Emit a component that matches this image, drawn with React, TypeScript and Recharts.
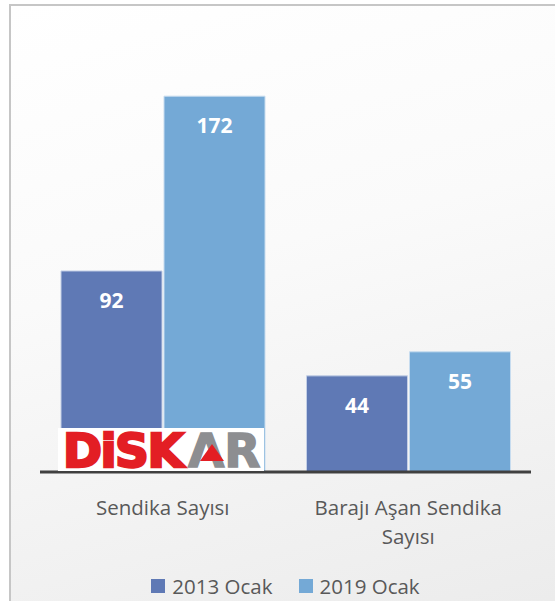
import React from "react";
import { BarChart, Bar, XAxis, YAxis, Legend, LabelList, Text } from "recharts";

const categories = ["Sendika Sayısı", "Barajı Aşan Sendika Sayısı"];
const series2013 = [92, 44];
const series2019 = [172, 55];
const seriesNames = ["2013 Ocak", "2019 Ocak"];
const seriesColors = ["#5f79b5", "#74a9d6"];

const data = categories.map((c, i) => ({ name: c, s2013: series2013[i], s2019: series2019[i] }));

const FONT = "'Open Sans', sans-serif";

const Tick = (props: any) => {
  const { x, y, payload } = props;
  return (
    <Text
      x={x}
      y={y + 20}
      width={185}
      textAnchor="middle"
      verticalAnchor="start"
      lineHeight={29}
      fill="#595959"
      style={{ fontFamily: FONT, fontSize: 20.5 }}
    >
      {payload.value}
    </Text>
  );
};

const ValueLabel = (props: any) => {
  const { x, y, width, value } = props;
  return (
    <text
      x={x + width / 2}
      y={y + 29}
      textAnchor="middle"
      dominantBaseline="central"
      fill="#ffffff"
      style={{ fontFamily: FONT, fontSize: 21, fontWeight: 700 }}
    >
      {value}
    </text>
  );
};

const LegendContent = () => (
  <div style={{ display: "flex", justifyContent: "center", fontFamily: FONT, fontSize: 20.5, color: "#595959", height: 26, alignItems: "center" }}>
    {seriesNames.map((n, i) => (
      <div key={n} style={{ display: "flex", alignItems: "center", marginRight: i === 0 ? 26 : 0 }}>
        <span style={{ display: "inline-block", width: 14, height: 14, background: seriesColors[i], marginRight: 7 }} />
        <span>{n}</span>
      </div>
    ))}
  </div>
);

const Logo = () => (
  <svg width={555} height={601} style={{ position: "absolute", left: 0, top: 0, pointerEvents: "none" }}>
    <rect x={58} y={428} width={206} height={43} fill="#ffffff" />
    <text x={63} y={467} fill="#e31e24" stroke="#e31e24" strokeWidth={2.5} style={{ fontFamily: "'DejaVu Sans', sans-serif", fontSize: 47, fontWeight: 700, letterSpacing: -1.5 }}>
      DiSK
    </text>
    <text x={188} y={467} fill="#8d8e91" stroke="#8d8e91" strokeWidth={1.5} style={{ fontFamily: "'DejaVu Sans', sans-serif", fontSize: 47, fontWeight: 700 }}>
      ΛR
    </text>
    <polygon points="212,444 200,461 224,461" fill="#e31e24" />
  </svg>
);

export default function App() {
  return (
    <div style={{ position: "absolute", left: 0, top: 0, width: 555, height: 601, overflow: "hidden" }}>
      <div
        style={{
          position: "absolute",
          left: 9,
          top: 4,
          width: 560,
          height: 620,
          border: "2px solid #c6c6c6",
          background: "linear-gradient(165deg, #ffffff 0%, #fafafa 40%, #ebebeb 100%)",
        }}
      />
      <div style={{ position: "absolute", left: 0, top: 0 }}>
        <BarChart
          width={555}
          height={601}
          data={data}
          margin={{ top: 35, right: 24, left: 40, bottom: 2 }}
          barGap={2}
          barCategoryGap={21}
        >
          <XAxis
            dataKey="name"
            axisLine={{ stroke: "#404040", strokeWidth: 3 }}
            tickLine={false}
            tick={<Tick />}
            height={101}
            interval={0}
          />
          <YAxis hide domain={[0, 200]} />
          <Legend verticalAlign="bottom" content={<LegendContent />} />
          <Bar dataKey="s2013" name={seriesNames[0]} fill={seriesColors[0]} stroke="#c3cfe6" strokeWidth={1} isAnimationActive={false}>
            <LabelList dataKey="s2013" content={<ValueLabel />} />
          </Bar>
          <Bar dataKey="s2019" name={seriesNames[1]} fill={seriesColors[1]} stroke="#c7dcef" strokeWidth={1} isAnimationActive={false}>
            <LabelList dataKey="s2019" content={<ValueLabel />} />
          </Bar>
        </BarChart>
      </div>
      <Logo />
    </div>
  );
}
